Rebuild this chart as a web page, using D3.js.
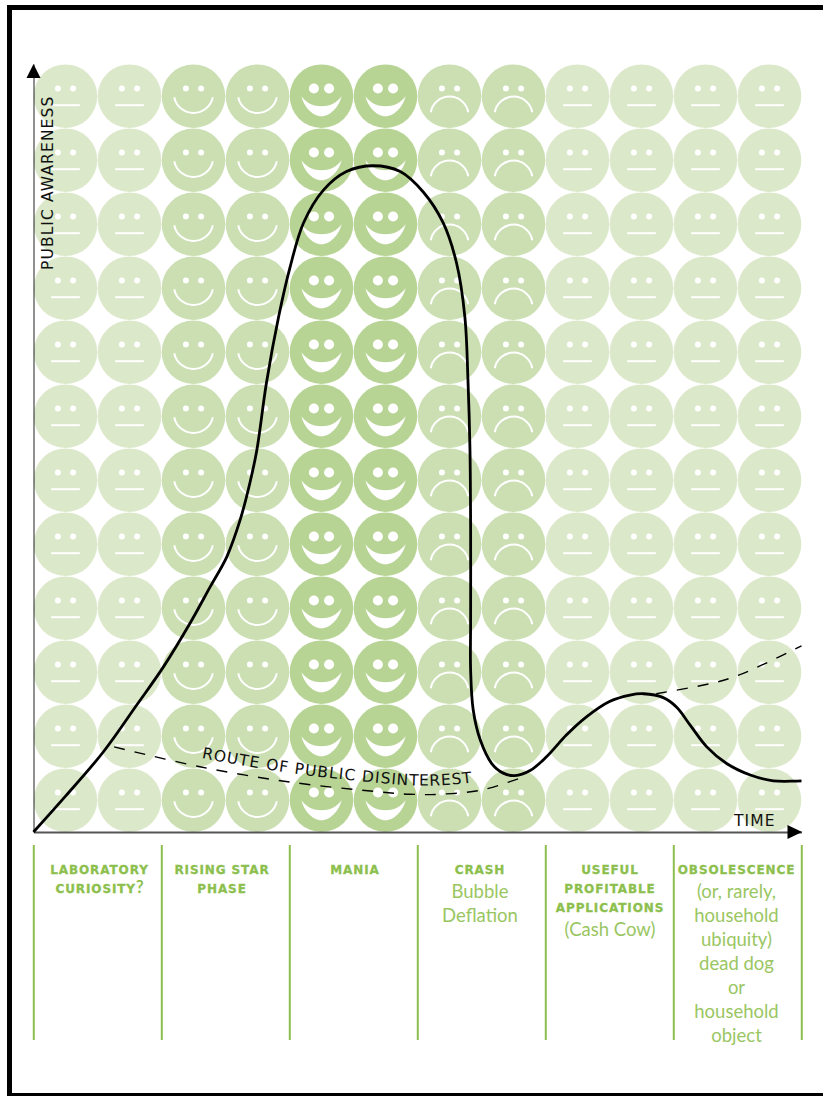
<!DOCTYPE html>
<html>
<head>
<meta charset="utf-8">
<title>Hype curve</title>
<script src="https://cdnjs.cloudflare.com/ajax/libs/d3/7.8.5/d3.min.js"></script>
<style>
    html, body { margin: 0; padding: 0; background: #fff; overflow: hidden; }
    svg { display: block; }
    .axis-label { font-family: "DejaVu Sans", sans-serif; font-size: 15.5px; letter-spacing: 1.1px; fill: #111; }
    .phase-title { font-family: "DejaVu Sans", sans-serif; font-weight: bold; font-size: 12px; letter-spacing: 0.9px; fill: #8cbf4d; stroke: #8cbf4d; stroke-width: 0.3px; text-anchor: middle; }
    .phase-title .big { font-family: Lato, sans-serif; font-weight: 700; font-size: 16.5px; letter-spacing: 0; stroke-width: 0; }
    .phase-note { font-family: Lato, sans-serif; font-weight: 400; font-size: 18.5px; fill: #9ac662; text-anchor: middle; }
</style>
</head>
<body>
<div id="chart"></div>
<script>
(function () {
    'use strict';

    // one mood per column, the rows just repeat it
    var columnMoods = ['neutral', 'neutral', 'happy', 'happy', 'mania', 'mania', 'sad', 'sad', 'neutral', 'neutral', 'neutral', 'neutral'];
    var rows = d3.range(12);

    // time and awareness are both in "face" units, 0 to 12
    var hypeTime = [0, 0.5, 1.09, 1.61, 2.03, 2.45, 2.76, 3.02, 3.23, 3.38, 3.49, 3.64, 3.83, 4.01, 4.22, 4.53, 4.89, 5.31, 5.73, 6.09, 6.4, 6.61, 6.74, 6.79, 6.82, 6.83, 6.83, 6.83, 6.87, 6.98, 7.16, 7.34, 7.52, 7.76, 8.02, 8.33, 8.64, 9.0, 9.32, 9.53, 9.84, 10.05, 10.26, 10.52, 10.83, 11.2, 11.56, 12.0];
    var hypeAwareness = [0, 0.56, 1.25, 1.98, 2.58, 3.27, 3.83, 4.3, 4.88, 5.45, 5.97, 7.02, 8.05, 8.83, 9.52, 10.03, 10.32, 10.41, 10.32, 10.0, 9.52, 8.89, 8.05, 7.02, 5.97, 4.72, 3.31, 2.53, 1.91, 1.44, 1.07, 0.92, 0.88, 0.96, 1.18, 1.52, 1.8, 2.04, 2.14, 2.16, 2.1, 1.95, 1.67, 1.33, 1.07, 0.89, 0.8, 0.8];

    var routeTime = [1.26, 2.6, 4.01, 5.37, 5.88, 6.35, 7.02, 7.65];
    var routeAwareness = [1.33, 1.02, 0.78, 0.63, 0.59, 0.59, 0.66, 0.86];
    var routeLateTime = [9.73, 10.67, 10.99, 11.45, 12.0];
    var routeLateAwareness = [2.16, 2.34, 2.44, 2.64, 2.91];

    var phaseEdges = [0, 2, 4, 6, 8, 10, 12];
    var phaseTitles = [
        ['LABORATORY', 'CURIOSITY?'],
        ['RISING STAR', 'PHASE'],
        ['MANIA'],
        ['CRASH'],
        ['USEFUL', 'PROFITABLE', 'APPLICATIONS'],
        ['OBSOLESCENCE']
    ];
    var phaseNotes = [
        [],
        [],
        [],
        ['Bubble', 'Deflation'],
        ['(Cash Cow)'],
        ['(or, rarely,', 'household', 'ubiquity)', 'dead dog', 'or', 'household', 'object']
    ];
    var phaseCenters = [99.5, 222, 355, 480, 610, 736.5];

    var moodColors = { neutral: '#dbe8ca', happy: '#cbdfb2', mania: '#b8d495', sad: '#cbdfb2' };

    var width = 823, height = 1096;
    var plotLeft = 33.5, plotRight = 801.5, plotTop = 64, plotBottom = 832;

    var svg = d3.select('#chart').append('svg')
        .attr('width', width)
        .attr('height', height);

    var x = d3.scaleLinear().domain([0, 12]).range([plotLeft, plotRight]);
    var y = d3.scaleLinear().domain([0, 12]).range([plotBottom, plotTop]);
    var colBand = d3.scaleBand().domain(d3.range(12)).range([plotLeft, plotRight]);
    var rowBand = d3.scaleBand().domain(rows).range([plotTop, plotBottom]);

    // page frame, runs off the right side of the page
    svg.append('rect')
        .attr('x', 9.5).attr('y', 7.5)
        .attr('width', 900).attr('height', 1088)
        .attr('fill', 'none')
        .attr('stroke', '#000')
        .attr('stroke-width', 5);

    // faces
    var drawFace = function (face, mood) {
        var big = mood === 'mania';
        face.append('circle')
            .attr('r', 31.8)
            .attr('fill', moodColors[mood]);
        face.selectAll('.eye').data([-7.6, 7.6]).enter().append('circle')
            .attr('class', 'eye')
            .attr('cx', function (d) { return d; })
            .attr('cy', -7.7)
            .attr('r', big ? 5 : 3)
            .attr('fill', '#fff');

        if (mood === 'neutral') {
            face.append('line')
                .attr('x1', -14.3).attr('x2', 14.3)
                .attr('y1', 9).attr('y2', 9)
                .attr('stroke', '#fff').attr('stroke-width', 2);
        } else if (mood === 'happy') {
            face.append('path')
                .attr('d', 'M-19.3,1 A19.7,19.7 0 0 0 19.3,1')
                .attr('fill', 'none')
                .attr('stroke', '#fff').attr('stroke-width', 2);
        } else if (mood === 'sad') {
            face.append('path')
                .attr('d', 'M-18.7,16 A19,19 0 0 1 18.7,16')
                .attr('fill', 'none')
                .attr('stroke', '#fff').attr('stroke-width', 2);
        } else {
            face.append('path')
                .attr('d', 'M-20,0 C-18,10 -9,20 0,20 C9,20 18,10 20,0 C15,7 8,10 0,10 C-8,10 -15,7 -20,0 Z')
                .attr('fill', '#fff');
        }
    };

    columnMoods.forEach(function (mood, c) {
        rows.forEach(function (r) {
            var face = svg.append('g')
                .attr('class', 'face')
                .attr('transform', 'translate(' + (colBand(c) + colBand.bandwidth() / 2) + ',' + (rowBand(r) + rowBand.bandwidth() / 2 + 0.2) + ')');
            drawFace(face, mood);
        });
    });

    // axes, no ticks on either one
    var xAxis = svg.append('g')
        .attr('transform', 'translate(0,' + plotBottom + ')')
        .call(d3.axisBottom(x).tickValues([]).tickSizeOuter(0));
    xAxis.select('.domain').attr('stroke', '#555').attr('stroke-width', 2);

    var yAxis = svg.append('g')
        .attr('transform', 'translate(' + plotLeft + ',0)')
        .call(d3.axisLeft(y).tickValues([]).tickSizeOuter(0));
    yAxis.select('.domain').attr('stroke', '#222').attr('stroke-width', 1);

    svg.append('path')
        .attr('d', d3.line()([[plotLeft, plotTop], [plotLeft - 7, plotTop + 14], [plotLeft + 7, plotTop + 14]]) + 'Z')
        .attr('fill', '#000');
    svg.append('path')
        .attr('d', d3.line()([[plotRight + 0.5, plotBottom], [plotRight - 14, plotBottom - 7], [plotRight - 14, plotBottom + 7]]) + 'Z')
        .attr('fill', '#000');

    svg.append('text')
        .attr('class', 'axis-label')
        .attr('transform', 'translate(53,270) rotate(-90)')
        .text('PUBLIC AWARENESS');
    svg.append('text')
        .attr('class', 'axis-label')
        .attr('x', 734).attr('y', 826)
        .text('TIME');

    // curves
    var line = d3.line()
        .x(function (d) { return x(d[0]); })
        .y(function (d) { return y(d[1]); })
        .curve(d3.curveCatmullRom.alpha(0.5));

    svg.append('path')
        .attr('id', 'route-early')
        .attr('d', line(d3.zip(routeTime, routeAwareness)))
        .attr('fill', 'none')
        .attr('stroke', '#000')
        .attr('stroke-width', 1.4)
        .attr('stroke-dasharray', '11 10');

    svg.append('path')
        .attr('d', line(d3.zip(routeLateTime, routeLateAwareness)))
        .attr('fill', 'none')
        .attr('stroke', '#000')
        .attr('stroke-width', 1.4)
        .attr('stroke-dasharray', '11 10');

    svg.append('path')
        .attr('d', line(d3.zip(hypeTime, hypeAwareness)))
        .attr('fill', 'none')
        .attr('stroke', '#000')
        .attr('stroke-width', 2.8);

    svg.append('text')
        .attr('class', 'axis-label')
        .attr('dy', -9)
        .append('textPath')
        .attr('href', '#route-early')
        .attr('startOffset', 88)
        .text('ROUTE OF PUBLIC DISINTEREST');

    // phases under the chart
    svg.selectAll('.phase-edge').data(phaseEdges).enter().append('line')
        .attr('class', 'phase-edge')
        .attr('x1', function (d) { return x(d) + 0.3; })
        .attr('x2', function (d) { return x(d) + 0.3; })
        .attr('y1', 845).attr('y2', 1040)
        .attr('stroke', '#8cbf4d')
        .attr('stroke-width', 2);

    phaseTitles.forEach(function (titles, i) {
        var yPos = 874;
        titles.forEach(function (t, j) {
            if (j > 0) { yPos += 19; }
            var title = svg.append('text')
                .attr('class', 'phase-title')
                .attr('x', phaseCenters[i])
                .attr('y', yPos);
            // the question mark is set bigger than the rest
            if (t.slice(-1) === '?') {
                title.append('tspan').text(t.slice(0, -1));
                title.append('tspan').attr('class', 'big').text('?');
            } else {
                title.text(t);
            }
        });
        phaseNotes[i].forEach(function (t) {
            yPos += 24;
            svg.append('text')
                .attr('class', 'phase-note')
                .attr('x', phaseCenters[i])
                .attr('y', yPos)
                .text(t);
        });
    });
})();
</script>
</body>
</html>
